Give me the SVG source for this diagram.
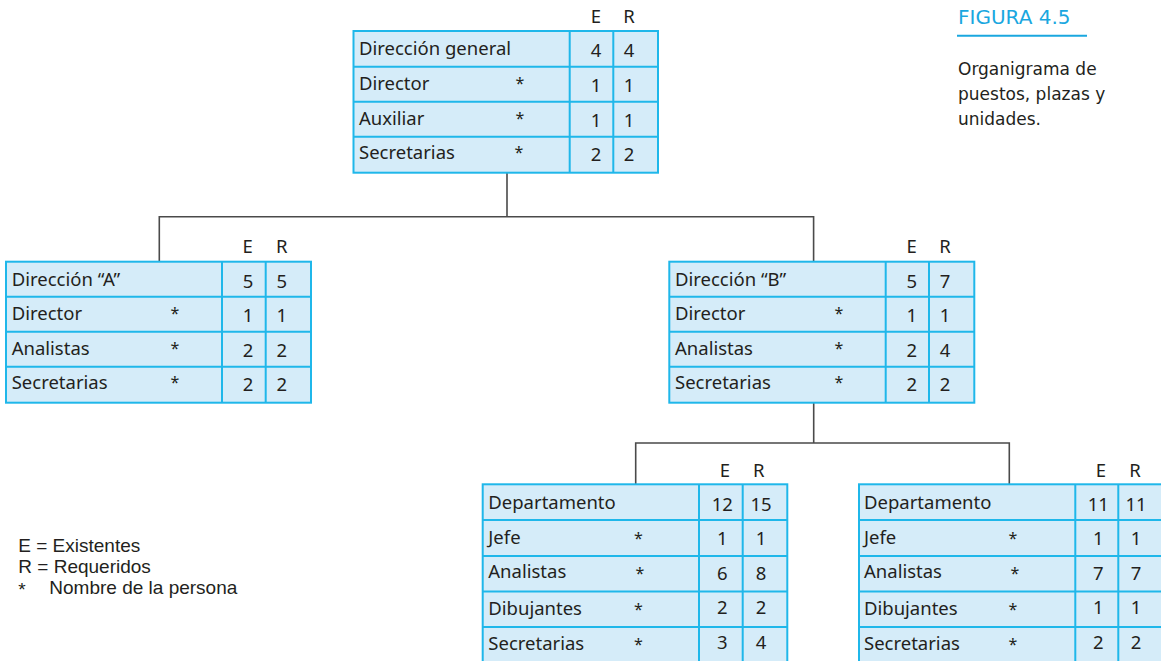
<svg xmlns="http://www.w3.org/2000/svg" width="1161" height="661" viewBox="0 0 1161 661">
<style>
.box{fill:#d5ecf9;stroke:#1fb7ea;stroke-width:2}
.ln{stroke:#1fb7ea;stroke-width:2}
.t{font-family:"Noto Sans","Liberation Sans",sans-serif;font-size:18.5px;fill:#231f20}
.n{font-family:"Noto Sans","Liberation Sans",sans-serif;font-size:18.5px;fill:#231f20;text-anchor:middle}
.s{font-family:"Noto Sans","Liberation Sans",sans-serif;font-size:16px;fill:#231f20;text-anchor:middle}
.lg{font-family:"Liberation Sans",Arial,sans-serif;font-size:19px;fill:#231f20}
.conn{stroke:#4a4a4a;stroke-width:1.6;fill:none}
.cap{font-family:"DejaVu Sans","Verdana",sans-serif;font-size:17px;fill:#231f20}
.fig{font-family:"DejaVu Sans","Verdana",sans-serif;font-size:20px;fill:#1aa7df}
</style>
<g id="connectors">
<path class="conn" d="M507,173 V216.7 M159.3,261.7 V216.7 H813.6 V261.7"/>
<path class="conn" d="M813.7,402.7 V443 M635.7,484.3 V443 H1009.3 V484.3"/>
</g>
<g id="n-general">
<rect class="box" x="353.5" y="31" width="304.5" height="141.7"/>
<path class="ln" d="M569.7,31V172.7M613.3,31V172.7M353.5,66.7H658M353.5,101.7H658M353.5,136.7H658"/>
<text class="n" x="596" y="23">E</text><text class="n" x="629" y="23">R</text>
<text class="t" x="359" y="55">Dirección general</text>
<text class="t" x="359" y="90">Director</text>
<text class="t" x="359" y="124.5">Auxiliar</text>
<text class="t" x="359" y="158.5">Secretarias</text>
<text class="s" x="520" y="89">*</text><text class="s" x="520" y="124">*</text><text class="s" x="519" y="158">*</text>
<text class="n" x="596" y="57">4</text><text class="n" x="629" y="57">4</text>
<text class="n" x="596" y="92">1</text><text class="n" x="629" y="92">1</text>
<text class="n" x="596" y="127">1</text><text class="n" x="629" y="127">1</text>
<text class="n" x="596" y="160.5">2</text><text class="n" x="629" y="160.5">2</text>
</g>
<g id="n-dir-a">
<rect class="box" x="6" y="261.7" width="305" height="141"/>
<path class="ln" d="M222,261.7V402.7M265.7,261.7V402.7M6,296.7H311M6,331.7H311M6,366.7H311"/>
<text class="n" x="247.7" y="253">E</text><text class="n" x="281.7" y="253">R</text>
<text class="t" x="11.7" y="285.5">Dirección “A”</text>
<text class="t" x="11.7" y="320">Director</text>
<text class="t" x="11.7" y="354.5">Analistas</text>
<text class="t" x="11.7" y="389">Secretarias</text>
<text class="s" x="175" y="319">*</text><text class="s" x="175" y="354">*</text><text class="s" x="175" y="388">*</text>
<text class="n" x="248" y="287.5">5</text><text class="n" x="281.7" y="287.5">5</text>
<text class="n" x="248" y="322">1</text><text class="n" x="281.7" y="322">1</text>
<text class="n" x="248" y="357">2</text><text class="n" x="281.7" y="357">2</text>
<text class="n" x="248" y="391">2</text><text class="n" x="281.7" y="391">2</text>
</g>
<g id="n-dir-b">
<rect class="box" x="669.3" y="261.7" width="305" height="141"/>
<path class="ln" d="M885.7,261.7V402.7M929,261.7V402.7M669.3,296.7H974.3M669.3,331.7H974.3M669.3,366.7H974.3"/>
<text class="n" x="911.7" y="253">E</text><text class="n" x="945" y="253">R</text>
<text class="t" x="675" y="285.5">Dirección “B”</text>
<text class="t" x="675" y="320">Director</text>
<text class="t" x="675" y="354.5">Analistas</text>
<text class="t" x="675" y="389">Secretarias</text>
<text class="s" x="839" y="319">*</text><text class="s" x="839" y="354">*</text><text class="s" x="839" y="388">*</text>
<text class="n" x="911.7" y="287.5">5</text><text class="n" x="945" y="287.5">7</text>
<text class="n" x="911.7" y="322">1</text><text class="n" x="945" y="322">1</text>
<text class="n" x="911.7" y="357">2</text><text class="n" x="945" y="357">4</text>
<text class="n" x="911.7" y="391">2</text><text class="n" x="945" y="391">2</text>
</g>
<g id="n-dept-1">
<rect class="box" x="482.7" y="484.3" width="304.6" height="179"/>
<path class="ln" d="M699,484.3V663M742.7,484.3V663M482.7,520H787.3M482.7,556H787.3M482.7,591.5H787.3M482.7,627H787.3"/>
<text class="n" x="725" y="476.7">E</text><text class="n" x="758.7" y="476.7">R</text>
<text class="t" x="488.3" y="509">Departamento</text>
<text class="t" x="488.3" y="543.5">Jefe</text>
<text class="t" x="488.3" y="578">Analistas</text>
<text class="t" x="488.3" y="615">Dibujantes</text>
<text class="t" x="488.3" y="650">Secretarias</text>
<text class="s" x="638.5" y="544">*</text><text class="s" x="640" y="579">*</text><text class="s" x="638.5" y="615">*</text><text class="s" x="638.5" y="650">*</text>
<text class="n" x="722.3" y="511">12</text><text class="n" x="761" y="511">15</text>
<text class="n" x="722.3" y="545">1</text><text class="n" x="761" y="545">1</text>
<text class="n" x="722.3" y="580">6</text><text class="n" x="761" y="580">8</text>
<text class="n" x="722.3" y="614">2</text><text class="n" x="761" y="614">2</text>
<text class="n" x="722.3" y="648.5">3</text><text class="n" x="761" y="648.5">4</text>
</g>
<g id="n-dept-2">
<rect class="box" x="859" y="484.3" width="305" height="179"/>
<path class="ln" d="M1075.3,484.3V663M1118.3,484.3V663M859,520H1164M859,556H1164M859,591.5H1164M859,627H1164"/>
<text class="n" x="1101" y="476.7">E</text><text class="n" x="1135" y="476.7">R</text>
<text class="t" x="864" y="509">Departamento</text>
<text class="t" x="864" y="543.5">Jefe</text>
<text class="t" x="864" y="578">Analistas</text>
<text class="t" x="864" y="615">Dibujantes</text>
<text class="t" x="864" y="650">Secretarias</text>
<text class="s" x="1013" y="544">*</text><text class="s" x="1015" y="579">*</text><text class="s" x="1013" y="615">*</text><text class="s" x="1013" y="650">*</text>
<text class="n" x="1098.3" y="511">11</text><text class="n" x="1136" y="511">11</text>
<text class="n" x="1098.3" y="545">1</text><text class="n" x="1136" y="545">1</text>
<text class="n" x="1098.3" y="580">7</text><text class="n" x="1136" y="580">7</text>
<text class="n" x="1098.3" y="614">1</text><text class="n" x="1136" y="614">1</text>
<text class="n" x="1098.3" y="648.5">2</text><text class="n" x="1136" y="648.5">2</text>
</g>
<g id="legend">
<text class="lg" x="18.3" y="551.7">E = Existentes</text>
<text class="lg" x="18.3" y="573">R = Requeridos</text>
<text class="lg" x="18.3" y="596">*</text>
<text class="lg" x="49.3" y="594.3">Nombre de la persona</text>
</g>
<g id="caption">
<text class="fig" x="958" y="24.3">FIGURA 4.5</text>
<line x1="957" y1="35.7" x2="1087" y2="35.7" stroke="#1aa7df" stroke-width="2"/>
<text class="cap" x="958" y="75">Organigrama de</text>
<text class="cap" x="958" y="100">puestos, plazas y</text>
<text class="cap" x="958" y="125">unidades.</text>
</g>
</svg>
